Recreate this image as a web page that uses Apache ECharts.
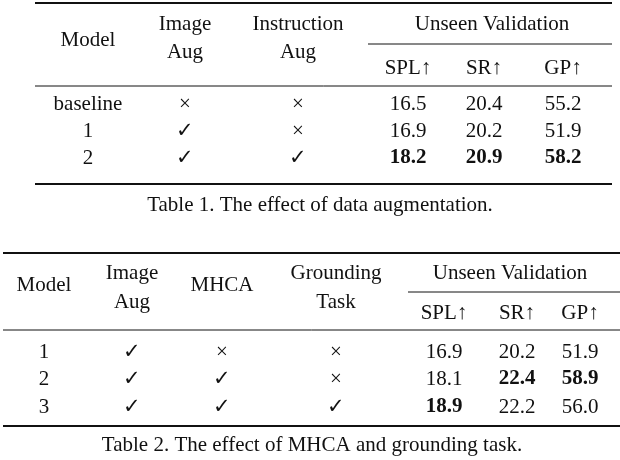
<!DOCTYPE html>
<html>
<head>
<meta charset="utf-8">
<script src="https://cdn.jsdelivr.net/npm/echarts@6/dist/echarts.min.js"></script>
<style>
html,body{margin:0;padding:0;background:#fff;}
#main{width:620px;height:460px;}
</style>
</head>
<body>
<div id="main"></div>
<script>
// table 1
var t1Metrics = ['SPL↑', 'SR↑', 'GP↑'];
var t1Models = ['baseline', '1', '2'];
var t1ImageAug = ['×', '✓', '✓'];
var t1InstrAug = ['×', '×', '✓'];
var t1SPL = ['16.5', '16.9', '18.2'];
var t1SR = ['20.4', '20.2', '20.9'];
var t1GP = ['55.2', '51.9', '58.2'];
var t1Bold = [[false, false, false], [false, false, false], [true, true, true]];
var t1Caption = 'Table 1. The effect of data augmentation.';

// table 2
var t2Metrics = ['SPL↑', 'SR↑', 'GP↑'];
var t2Models = ['1', '2', '3'];
var t2ImageAug = ['✓', '✓', '✓'];
var t2MHCA = ['×', '✓', '✓'];
var t2Grounding = ['×', '×', '✓'];
var t2SPL = ['16.9', '18.1', '18.9'];
var t2SR = ['20.2', '22.4', '22.2'];
var t2GP = ['51.9', '58.9', '56.0'];
var t2Bold = [[false, false, false], [false, true, true], [true, false, false]];
var t2Caption = 'Table 2. The effect of MHCA and grounding task.';

var FONT = '"Liberation Serif", "DejaVu Serif", serif';
var els = [];

function txt(x, y, s, bold) {
    els.push({
        type: 'text', x: x, y: y,
        style: {
            text: s, fill: '#111', font: (bold ? 'bold ' : '') + '21px ' + FONT,
            align: 'center', verticalAlign: 'middle'
        }
    });
}
function rule(x1, x2, y, w) {
    els.push({ type: 'line', shape: { x1: x1, y1: y, x2: x2, y2: y }, style: { stroke: '#111', lineWidth: w } });
}

// ---- table 1 ----
rule(35, 612, 3, 2);
txt(88, 40, 'Model');
txt(185, 24, 'Image'); txt(185, 52, 'Aug');
txt(298, 24, 'Instruction'); txt(298, 52, 'Aug');
txt(492, 24, 'Unseen Validation');
rule(368, 612, 44, 1);
var c1 = [408, 484, 563];
t1Metrics.forEach(function (m, i) { txt(c1[i], 68, m); });
rule(35, 612, 86, 1);
var r1 = [104, 131, 158];
t1Models.forEach(function (m, i) {
    txt(88, r1[i], m);
    txt(185, r1[i], t1ImageAug[i]);
    txt(298, r1[i], t1InstrAug[i]);
    txt(c1[0], r1[i], t1SPL[i], t1Bold[i][0]);
    txt(c1[1], r1[i], t1SR[i], t1Bold[i][1]);
    txt(c1[2], r1[i], t1GP[i], t1Bold[i][2]);
});
rule(35, 612, 184, 2);
txt(320, 205, t1Caption);

// ---- table 2 ----
rule(3, 620, 253, 2);
txt(44, 285, 'Model');
txt(132, 273, 'Image'); txt(132, 302, 'Aug');
txt(222, 285, 'MHCA');
txt(336, 273, 'Grounding'); txt(336, 302, 'Task');
txt(510, 273, 'Unseen Validation');
rule(408, 620, 292, 1);
var c2 = [444, 517, 580];
t2Metrics.forEach(function (m, i) { txt(c2[i], 313, m); });
rule(3, 620, 330, 1);
var r2 = [352, 379, 407];
t2Models.forEach(function (m, i) {
    txt(44, r2[i], m);
    txt(132, r2[i], t2ImageAug[i]);
    txt(222, r2[i], t2MHCA[i]);
    txt(336, r2[i], t2Grounding[i]);
    txt(c2[0], r2[i], t2SPL[i], t2Bold[i][0]);
    txt(c2[1], r2[i], t2SR[i], t2Bold[i][1]);
    txt(c2[2], r2[i], t2GP[i], t2Bold[i][2]);
});
rule(3, 620, 426, 2);
txt(312, 445, t2Caption);

var myChart = echarts.init(document.getElementById('main'));
myChart.setOption({ animation: false, graphic: { elements: els } });
</script>
</body>
</html>
